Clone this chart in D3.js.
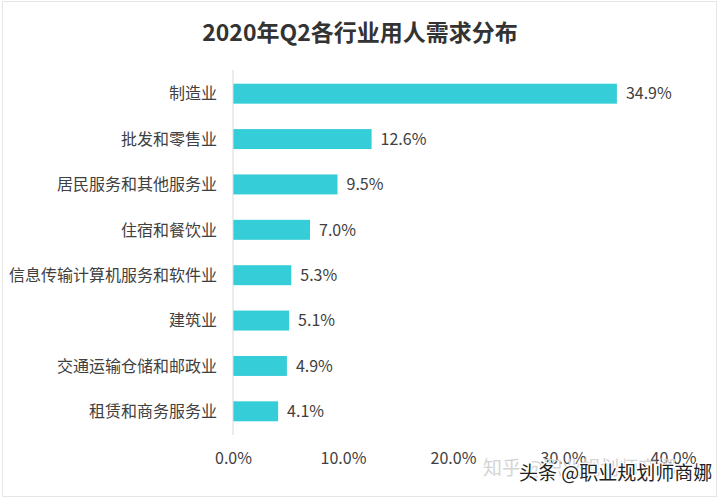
<!DOCTYPE html>
<html><head><meta charset="utf-8">
<script src="https://cdn.jsdelivr.net/npm/d3@7"></script>
<style>html,body{margin:0;padding:0;background:#fff;}svg{display:block;}</style>
</head><body>
<svg id="c" width="720" height="499"></svg>
<script>
const categories = ["制造业","批发和零售业","居民服务和其他服务业","住宿和餐饮业","信息传输计算机服务和软件业","建筑业","交通运输仓储和邮政业","租赁和商务服务业"];
const values = [34.9,12.6,9.5,7.0,5.3,5.1,4.9,4.1];
const xTicks = [0,10,20,30,40];
const title = "2020年Q2各行业用人需求分布";

const font = "'Noto Sans CJK SC','Microsoft YaHei',sans-serif";
const svg = d3.select("#c");
svg.append("rect").attr("x",2.5).attr("y",1.5).attr("width",714).attr("height",495)
  .attr("fill","#fff").attr("stroke","#e6e6e6");

const x = d3.scaleLinear().domain([0,40]).range([233,673]);
const y = d3.scaleBand().domain(categories).range([71,434]).paddingInner(0.56).paddingOuter(0.28);

svg.append("text").attr("x",360).attr("y",41).attr("text-anchor","middle")
  .attr("font-family",font).attr("font-weight","bold").attr("font-size",23).attr("fill","#333").text(title);

svg.selectAll(".bar").data(values).enter().append("rect")
  .attr("x",x(0)).attr("y",(d,i)=>y(categories[i]))
  .attr("width",d=>x(d)-x(0)).attr("height",y.bandwidth()).attr("fill","#35cdd8");

svg.append("line").attr("x1",x(0)).attr("x2",x(0)).attr("y1",70).attr("y2",435)
  .attr("stroke","#d9d9d9").attr("stroke-width",1);

svg.selectAll(".cat").data(categories).enter().append("text")
  .attr("x",217).attr("y",d=>y(d)+y.bandwidth()/2).attr("dy","0.36em")
  .attr("text-anchor","end").attr("font-family",font).attr("font-size",16).attr("fill","#404040").text(d=>d);

svg.selectAll(".val").data(values).enter().append("text")
  .attr("x",d=>x(d)+9).attr("y",(d,i)=>y(categories[i])+y.bandwidth()/2).attr("dy","0.36em")
  .attr("font-family",font).attr("font-size",16).attr("fill","#404040").text(d=>d.toFixed(1)+"%");

const ax = svg.append("g").attr("transform","translate(0,450)")
  .call(d3.axisBottom(x).tickValues(xTicks).tickSize(0).tickFormat(d=>d.toFixed(1)+"%"));
ax.select(".domain").remove();
ax.selectAll("text").attr("font-family",font).attr("font-size",16).attr("fill","#404040");

svg.append("text").attr("x",483).attr("y",475).attr("font-family",font).attr("font-size",19)
  .attr("fill","#d4d4d4").text("知乎 @职业规划师商娜");
svg.append("text").attr("x",519).attr("y",480).attr("font-family",font).attr("font-size",19)
  .attr("fill","#222").attr("stroke","#fff").attr("stroke-width",2.5).attr("paint-order","stroke")
  .text("头条 @职业规划师商娜");
</script>
</body></html>
